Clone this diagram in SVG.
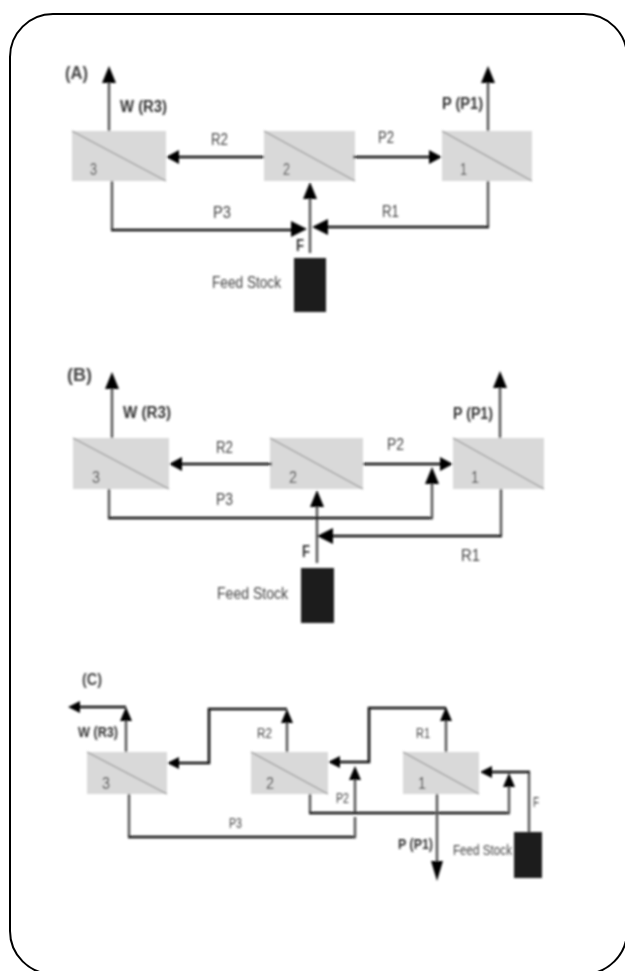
<svg xmlns="http://www.w3.org/2000/svg" width="625" height="971" viewBox="0 0 625 971">
<style>
.box{fill:#d9d9d9}
.diag{stroke:#969696;stroke-width:1.2;fill:none}
.g{stroke:#5c5c5c;stroke-width:2.6;fill:none}
.k{stroke:#111;stroke-width:2.6;fill:none}
.h{fill:#000}
.feed{fill:#1a1a1a}
text{font-family:"Liberation Sans",Arial,sans-serif;fill:#444;font-size:16px}
.b{font-weight:bold;fill:#333}
.t{font-weight:bold;font-size:18px;fill:#444}
.s{font-size:14px}
</style>
<defs>
<filter id="soft" x="-5%" y="-5%" width="110%" height="110%"><feGaussianBlur stdDeviation="0.8"/></filter>
<polygon id="u" class="h" points="0,0 -7,17 7,17"/>
<polygon id="su" class="h" points="0,0 -6,14 6,14"/>
<polygon id="d" class="h" points="0,0 -6,-20 6,-20"/>
<polygon id="l" class="h" points="0,0 13,-7 13,7"/>
<polygon id="r" class="h" points="0,0 -13,-7 -13,7"/>
<polygon id="bl" class="h" points="0,0 16,-8 16,8"/>
<polygon id="br" class="h" points="0,0 -16,-8 -16,8"/>
<polygon id="sl" class="h" points="0,0 12,-6 12,6"/>
</defs>
<rect id="frame" x="10" y="14" width="617" height="960" rx="43" ry="43" fill="none" stroke="#000" stroke-width="2"/>
<g filter="url(#soft)">
<g id="nodes-a">
<g id="a3"><rect class="box" x="72" y="131" width="94" height="50"/><path class="diag" d="M72 131L166 181"/><text x="90" y="175" textLength="7" lengthAdjust="spacingAndGlyphs">3</text></g>
<g id="a2"><rect class="box" x="264" y="131" width="91" height="50"/><path class="diag" d="M264 131L355 181"/><text x="283" y="175" textLength="7" lengthAdjust="spacingAndGlyphs">2</text></g>
<g id="a1"><rect class="box" x="442" y="131" width="90" height="50"/><path class="diag" d="M442 131L532 181"/><text x="460" y="175" textLength="7" lengthAdjust="spacingAndGlyphs">1</text></g>
<g id="afeed"><rect class="feed" x="294" y="258" width="32" height="54"/><text x="212" y="288" textLength="69" lengthAdjust="spacingAndGlyphs">Feed Stock</text></g>
</g>
<g id="nodes-b">
<g id="b3"><rect class="box" x="73" y="438" width="96" height="51"/><path class="diag" d="M73 438L169 489"/><text x="92" y="483" textLength="8" lengthAdjust="spacingAndGlyphs">3</text></g>
<g id="b2"><rect class="box" x="270" y="438" width="93" height="51"/><path class="diag" d="M270 438L363 489"/><text x="289" y="483" textLength="8" lengthAdjust="spacingAndGlyphs">2</text></g>
<g id="b1"><rect class="box" x="453" y="438" width="91" height="51"/><path class="diag" d="M453 438L544 489"/><text x="471" y="483" textLength="8" lengthAdjust="spacingAndGlyphs">1</text></g>
<g id="bfeed"><rect class="feed" x="301" y="568" width="33" height="55"/><text x="217" y="599" textLength="71" lengthAdjust="spacingAndGlyphs">Feed Stock</text></g>
</g>
<g id="nodes-c">
<g id="c3"><rect class="box" x="87" y="752" width="80" height="42"/><path class="diag" d="M87 752L167 794"/><text x="102" y="789" textLength="8" lengthAdjust="spacingAndGlyphs">3</text></g>
<g id="c2"><rect class="box" x="251" y="752" width="77" height="42"/><path class="diag" d="M251 752L328 794"/><text x="266" y="789" textLength="8" lengthAdjust="spacingAndGlyphs">2</text></g>
<g id="c1"><rect class="box" x="403" y="752" width="76" height="42"/><path class="diag" d="M403 752L479 794"/><text x="418" y="789" textLength="8" lengthAdjust="spacingAndGlyphs">1</text></g>
<g id="cfeed"><rect class="feed" x="514" y="832" width="28" height="46"/><text class="s" x="453" y="855" textLength="59" lengthAdjust="spacingAndGlyphs">Feed Stock</text></g>
</g>
<g id="connectors">
<path class="g" d="M109 131V80M488 131V80M310 253V195"/>
<path class="k" d="M264 157H176M353 157H432"/>
<path class="g" d="M112 181V230"/><path class="k" d="M111 230H295"/>
<path class="g" d="M488 181V227"/><path class="k" d="M489 227H322"/>
<use href="#u" x="109" y="66"/><use href="#u" x="488" y="66"/><use href="#u" x="310" y="182"/>
<use href="#l" x="166" y="157"/><use href="#r" x="442" y="157"/>
<use href="#br" x="307" y="229"/><use href="#bl" x="312" y="227"/>

<path class="g" d="M112 438V385M500 438V385M317 563V503"/>
<path class="k" d="M272 464H179M363 464H443"/>
<path class="g" d="M109 489V518"/><path class="k" d="M108 518H433"/><path class="g" d="M432 518V480"/>
<path class="g" d="M501 489V536"/><path class="k" d="M502 536H327"/>
<use href="#u" x="112" y="372"/><use href="#u" x="500" y="371"/><use href="#u" x="317" y="490"/>
<use href="#l" x="169" y="464"/><use href="#r" x="453" y="464"/>
<use href="#u" x="432" y="467"/><use href="#bl" x="317" y="536"/>

<path class="g" d="M126 752V720"/><path class="k" d="M126 707H78"/>
<path class="g" d="M287 752V720"/><path class="k" d="M287 709H209V763H177"/>
<path class="g" d="M446 752V720"/><path class="k" d="M446 708H369V762H338"/>
<path class="g" d="M129 794V837"/><path class="k" d="M128 837H356"/><path class="g" d="M355 837V817M355 813V780"/>
<path class="g" d="M310 794V813"/><path class="k" d="M309 813H510"/><path class="g" d="M509 813V786"/>
<path class="g" d="M529 832V772"/><path class="k" d="M530 772H490"/>
<path class="g" d="M437 794V866"/>
<use href="#su" x="126" y="707"/><use href="#sl" x="68" y="707"/>
<use href="#su" x="287" y="709"/><use href="#sl" x="167" y="763"/>
<use href="#su" x="446" y="707"/><use href="#sl" x="328" y="762"/>
<use href="#su" x="355" y="766"/><use href="#su" x="509" y="773"/>
<use href="#sl" x="480" y="772"/><use href="#d" x="437" y="881"/>
</g>
<g id="labels">
<text class="t" x="65" y="79" textLength="23" lengthAdjust="spacingAndGlyphs">(A)</text>
<text class="b" x="120" y="112" textLength="47" lengthAdjust="spacingAndGlyphs">W (R3)</text>
<text class="b" x="442" y="109" textLength="41" lengthAdjust="spacingAndGlyphs">P (P1)</text>
<text x="211" y="145" textLength="17" lengthAdjust="spacingAndGlyphs">R2</text>
<text x="378" y="143" textLength="16" lengthAdjust="spacingAndGlyphs">P2</text>
<text x="213" y="218" textLength="18" lengthAdjust="spacingAndGlyphs">P3</text>
<text x="382" y="217" textLength="17" lengthAdjust="spacingAndGlyphs">R1</text>
<text class="b" x="296" y="251" textLength="8" lengthAdjust="spacingAndGlyphs">F</text>

<text class="t" x="67" y="381" textLength="25" lengthAdjust="spacingAndGlyphs">(B)</text>
<text class="b" x="123" y="418" textLength="48" lengthAdjust="spacingAndGlyphs">W (R3)</text>
<text class="b" x="453" y="419" textLength="40" lengthAdjust="spacingAndGlyphs">P (P1)</text>
<text x="216" y="453" textLength="17" lengthAdjust="spacingAndGlyphs">R2</text>
<text x="387" y="450" textLength="17" lengthAdjust="spacingAndGlyphs">P2</text>
<text x="216" y="505" textLength="17" lengthAdjust="spacingAndGlyphs">P3</text>
<text x="461" y="561" textLength="19" lengthAdjust="spacingAndGlyphs">R1</text>
<text class="b" x="302" y="557" textLength="8" lengthAdjust="spacingAndGlyphs">F</text>

<text class="t" x="82" y="685" style="font-size:16px" textLength="20" lengthAdjust="spacingAndGlyphs">(C)</text>
<text class="b s" x="78" y="737" textLength="40" lengthAdjust="spacingAndGlyphs">W (R3)</text>
<text class="s" x="257" y="738" textLength="15" lengthAdjust="spacingAndGlyphs">R2</text>
<text class="s" x="416" y="738" textLength="14" lengthAdjust="spacingAndGlyphs">R1</text>
<text class="s" x="336" y="803" textLength="13" lengthAdjust="spacingAndGlyphs">P2</text>
<text class="s" x="229" y="828" textLength="13" lengthAdjust="spacingAndGlyphs">P3</text>
<text class="s" x="533" y="807" textLength="6" lengthAdjust="spacingAndGlyphs">F</text>
<text class="b s" x="398" y="849" textLength="35" lengthAdjust="spacingAndGlyphs">P (P1)</text>
</g>
</g>
</svg>
